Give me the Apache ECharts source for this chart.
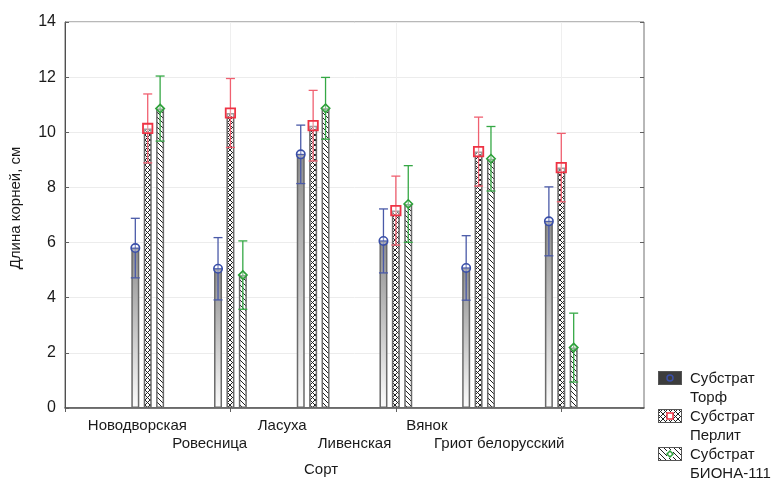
<!DOCTYPE html>
<html>
<head>
<meta charset="utf-8">
<script src="https://cdn.jsdelivr.net/npm/echarts@6/dist/echarts.min.js"></script>
<style>html,body{margin:0;padding:0;background:#fff}#c{width:782px;height:484px}</style>
</head>
<body>
<div id="c"></div>
<script>
// ---- data ----
const varieties = ['Новодворская', 'Ровесница', 'Ласуха', 'Ливенская', 'Вянок', 'Гриот белорусский'];
const seriesNames = ['Субстрат\nТорф', 'Субстрат\nПерлит', 'Субстрат\nБИОНА-111'];
const peatMean    = [5.80, 5.05, 9.20, 6.06, 5.08, 6.77];
const peatErr     = [1.08, 1.13, 1.06, 1.16, 1.17, 1.25];
const perliteMean = [10.14, 10.70, 10.24, 7.16, 9.30, 8.72];
const perliteErr  = [1.25, 1.25, 1.28, 1.25, 1.25, 1.24];
const bionaMean   = [10.86, 4.82, 10.87, 7.40, 9.04, 2.19];
const bionaErr    = [1.18, 1.24, 1.12, 1.39, 1.17, 1.25];
const yTicks = { min: 0, max: 14, interval: 2 };

// ---- styling helpers ----
const BAR_W = 8, BAR_GAP = 0.55;
const FONT = 'Liberation Sans, Arial, sans-serif';
const markColors = ['#3a4fa8', '#ee3344', '#2ea03a'];
const errColors = ['#4a5aa8', '#f06070', '#35a845'];

function crossCanvas() {
  const c = document.createElement('canvas'); c.width = 5; c.height = 5;
  const g = c.getContext('2d');
  g.fillStyle = '#fff'; g.fillRect(0, 0, 5, 5);
  g.strokeStyle = '#222'; g.lineWidth = 1;
  g.beginPath(); g.moveTo(0, 0); g.lineTo(5, 5); g.moveTo(5, 0); g.lineTo(0, 5); g.stroke();
  return c;
}
function hatchCanvas() {
  const c = document.createElement('canvas'); c.width = 5; c.height = 5;
  const g = c.getContext('2d');
  g.fillStyle = '#fff'; g.fillRect(0, 0, 5, 5);
  g.strokeStyle = '#222'; g.lineWidth = 1;
  g.beginPath(); g.moveTo(-1, -1); g.lineTo(6, 6); g.moveTo(-1, 4); g.lineTo(1, 6); g.moveTo(4, -1); g.lineTo(6, 1); g.stroke();
  return c;
}
function drawMarker(g, k, x, y, s) {
  g.strokeStyle = markColors[k]; g.lineWidth = 1.5;
  g.beginPath();
  if (k === 0) { g.arc(x, y, s, 0, Math.PI * 2); }
  else if (k === 1) { g.rect(x - s, y - s, 2 * s, 2 * s); }
  else { g.moveTo(x, y - s); g.lineTo(x + s, y); g.lineTo(x, y + s); g.lineTo(x - s, y); g.closePath(); }
  g.stroke();
}
function legendIcon(k) {
  const c = document.createElement('canvas'); c.width = 24; c.height = 34;
  const g = c.getContext('2d');
  if (k === 0) { g.fillStyle = '#3c3c3c'; }
  else { g.fillStyle = g.createPattern(k === 1 ? crossCanvas() : hatchCanvas(), 'repeat'); }
  g.fillRect(0.5, 0.5, 23, 13);
  g.strokeStyle = '#555'; g.lineWidth = 1; g.strokeRect(0.5, 0.5, 23, 13);
  if (k > 0) { g.fillStyle = '#fff'; g.fillRect(9, 3, 6, 8); }
  drawMarker(g, k, 12, 7, 3);
  return 'image://' + c.toDataURL();
}

const cats = [''].concat(varieties, ['']);
const labelCats = [''].concat(varieties, ['', '']);
const means = [peatMean, perliteMean, bionaMean];
const errs = [peatErr, perliteErr, bionaErr];
const fills = [
  { type: 'linear', x: 0, y: 0, x2: 0, y2: 1, colorStops: [{ offset: 0, color: '#8e8e8e' }, { offset: 1, color: '#fcfcfc' }] },
  { image: crossCanvas(), repeat: 'repeat' },
  { image: hatchCanvas(), repeat: 'repeat' }
];

const series = [];
means.forEach((m, k) => {
  series.push({
    name: seriesNames[k], type: 'bar', barWidth: BAR_W, barGap: (BAR_GAP * 100) + '%',
    data: [null].concat(m, [null]),
    itemStyle: { color: fills[k], borderColor: '#6a6a6a', borderWidth: 1.5 },
    emphasis: { disabled: true }, z: 2
  });
});
means.forEach((m, k) => {
  const off = (k - 1) * BAR_W * (1 + BAR_GAP);
  series.push({
    type: 'custom', z: 5, silent: true,
    data: m.map((v, i) => [i + 1, v, errs[k][i]]),
    renderItem: function (params, api) {
      const ci = api.value(0), v = api.value(1), e = api.value(2);
      const p = api.coord([ci, v]), pt = api.coord([ci, v + e]), pb = api.coord([ci, v - e]);
      const x = p[0] + off, cap = 4.5, s = 4.2;
      const ls = { stroke: errColors[k], lineWidth: 1.3 };
      const kids = [
        { type: 'line', shape: { x1: x, y1: pt[1], x2: x, y2: pb[1] }, style: ls },
        { type: 'line', shape: { x1: x - cap, y1: pt[1], x2: x + cap, y2: pt[1] }, style: ls },
        { type: 'line', shape: { x1: x - cap, y1: pb[1], x2: x + cap, y2: pb[1] }, style: ls }
      ];
      const ms = { stroke: markColors[k], lineWidth: 1.6, fill: 'rgba(255,255,255,0.35)' };
      if (k === 0) {
        kids.push({ type: 'circle', shape: { cx: x, cy: p[1], r: s }, style: ms });
        kids.push({ type: 'line', shape: { x1: x - s, y1: p[1], x2: x + s, y2: p[1] }, style: { stroke: markColors[k], lineWidth: 1 } });
      } else if (k === 1) {
        kids.push({ type: 'rect', shape: { x: x - s - 0.5, y: p[1] - s - 0.5, width: 2 * s + 1, height: 2 * s + 1 }, style: Object.assign({}, ms, { lineWidth: 1.8 }) });
      } else {
        kids.push({ type: 'polygon', shape: { points: [[x, p[1] - s], [x + s, p[1]], [x, p[1] + s], [x - s, p[1]]] }, style: ms });
      }
      return { type: 'group', children: kids };
    }
  });
});

const chart = echarts.init(document.getElementById('c'));
chart.setOption({
  animation: false,
  backgroundColor: '#fff',
  textStyle: { fontFamily: FONT },
  grid: { left: 65, right: 138, top: 22, bottom: 76, show: true, borderColor: '#707070', borderWidth: 1 },
  legend: {
    orient: 'vertical', left: 658, top: 369, height: 115, padding: 0,
    itemWidth: 24, itemHeight: 34, itemGap: 0,
    textStyle: { fontSize: 15, color: '#1a1a1a', lineHeight: 19, fontFamily: FONT, padding: [0, 0, 0, 3] },
    data: seriesNames.map((n, k) => ({ name: n, icon: legendIcon(k) })),
    selectedMode: false
  },
  xAxis: [
    { type: 'category', data: cats, boundaryGap: false, position: 'bottom',
      axisLine: { show: true, lineStyle: { color: '#505050', width: 1.5 } },
      axisTick: { show: false }, axisLabel: { show: false },
      splitLine: { show: true, lineStyle: { color: '#efefef' } } },
    { type: 'category', data: cats, boundaryGap: false, position: 'top',
      axisLine: { show: false }, axisTick: { show: true, inside: true, length: 4, lineStyle: { color: '#606060' } },
      axisLabel: { show: false }, splitLine: { show: false } },
    { type: 'category', data: labelCats, boundaryGap: false, position: 'bottom',
      axisLine: { show: false }, axisTick: { show: false }, splitLine: { show: false },
      axisLabel: { interval: 0, hideOverlap: false, fontSize: 15, color: '#1a1a1a', lineHeight: 18, margin: 9,
        formatter: (v, i) => (i % 2 === 0 && v ? '\n' + v : v) },
      name: 'Сорт', nameLocation: 'middle', nameGap: 54,
      nameTextStyle: { fontSize: 15, color: '#1a1a1a', padding: [0, 67, 0, 0] } }
  ],
  yAxis: [
    { type: 'value', min: yTicks.min, max: yTicks.max, interval: yTicks.interval, position: 'left',
      axisLine: { show: true, lineStyle: { color: '#505050' } },
      axisTick: { show: true, inside: true, length: 4, lineStyle: { color: '#606060' } },
      axisLabel: { fontSize: 16, color: '#1a1a1a', margin: 9 },
      splitLine: { show: true, lineStyle: { color: '#ececec' } },
      name: 'Длина корней, см', nameLocation: 'middle', nameGap: 42,
      nameTextStyle: { fontSize: 15, color: '#1a1a1a', padding: [0, 0, 0, 14] } },
    { type: 'value', min: yTicks.min, max: yTicks.max, interval: yTicks.interval, position: 'right',
      axisLine: { show: false }, axisTick: { show: true, inside: true, length: 4, lineStyle: { color: '#606060' } },
      axisLabel: { show: false }, splitLine: { show: false } }
  ],
  series: series
});
</script>
</body>
</html>
